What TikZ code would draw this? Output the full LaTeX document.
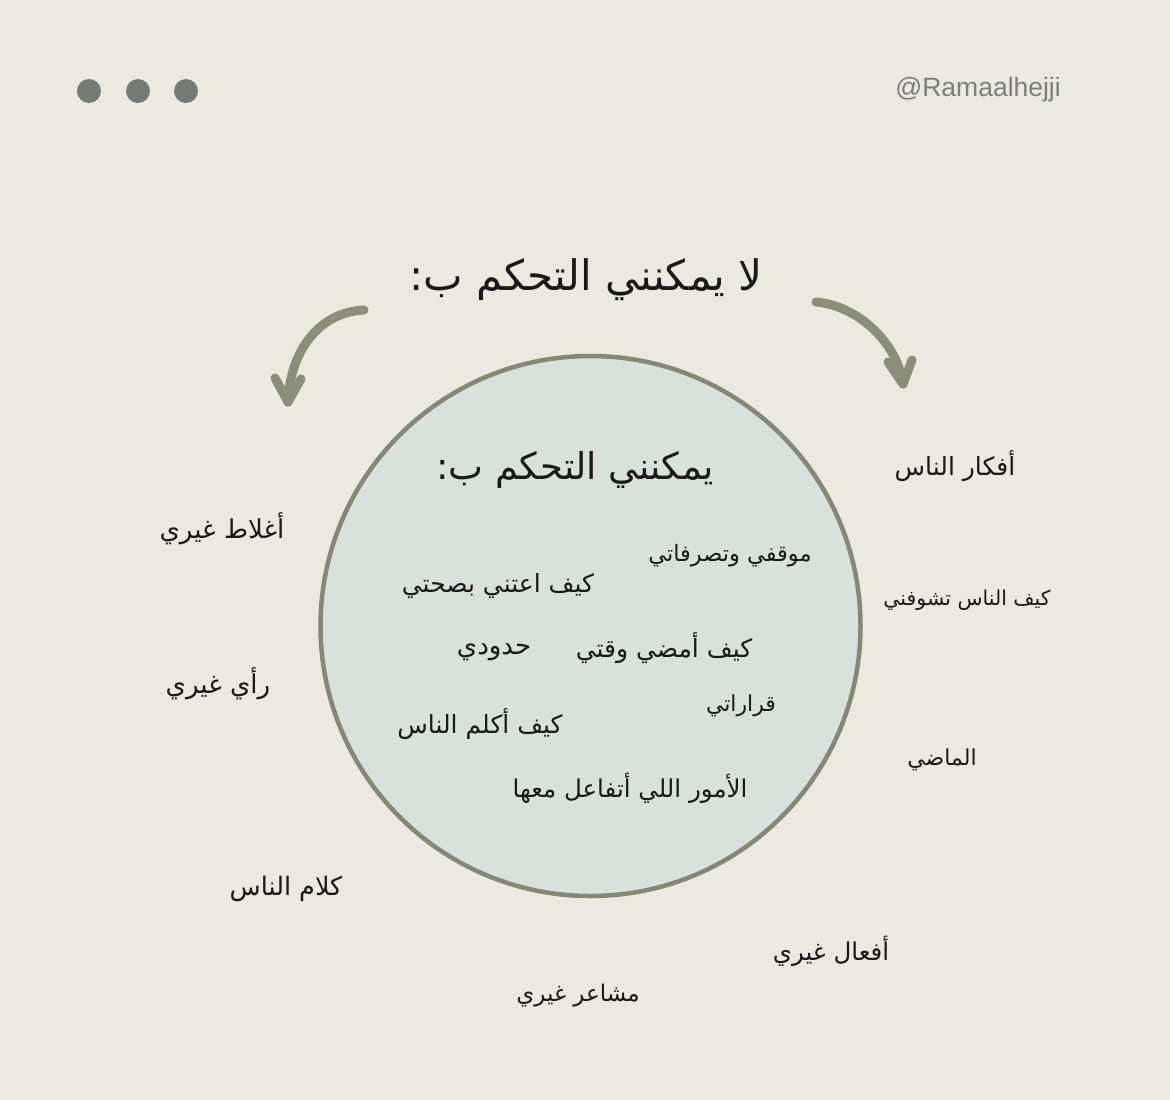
\documentclass[tikz,border=0pt]{standalone}
\usepackage{fontspec}
\TeXXeTstate=1
\newfontfamily\arabicfont[Script=Arabic]{DejaVu Sans}
\newfontfamily\handlefont{Liberation Sans}
\definecolor{bg}{HTML}{ECE9DE}
\definecolor{disc}{HTML}{D8E2DD}
\definecolor{rim}{HTML}{858873}
\definecolor{arrowc}{HTML}{8B8E78}
\definecolor{dotc}{HTML}{747C75}
\definecolor{handlec}{HTML}{7B7F7B}
\usetikzlibrary{arrows.meta}
\tikzset{
  ar/.style={font=\arabicfont\fontsize{#1}{#1}\selectfont, text=black!90, inner sep=0pt},
  ar/.default=24,
  curvearrow/.style={draw=arrowc, line width=9pt, line cap=round, line join=round},
  dotnode/.style={circle, fill=dotc, minimum size=24pt, inner sep=0pt},
}
\newcommand{\RL}[1]{\beginR #1\endR}
\begin{document}
\begin{tikzpicture}[x=1pt,y=-1pt]
\path[use as bounding box, fill=bg] (0,0) rectangle (1170,1100);
% window dots
\node[dotnode] (d1) at (89,91) {};
\node[dotnode] (d2) at (138,91) {};
\node[dotnode] (d3) at (186,91) {};
\node[font=\handlefont\fontsize{26.5}{26.5}\selectfont, text=handlec, anchor=east, inner sep=0pt] (handle) at (1061,90) {@Ramaalhejji};
% circle
\node[circle, fill=disc, draw=rim, line width=4.5pt, minimum size=540pt, inner sep=0pt] (c) at (590.5,626) {};
% title
\node[ar=42] (title) at (586,280) {\RL{لا يمكنني التحكم ب:}};
% arrows
\coordinate (la0) at (364,310);
\coordinate (la1) at (288,402);
\coordinate (ra0) at (816,302);
\coordinate (ra1) at (903,384);
\draw[curvearrow] (la0) .. controls (320,312) and (290,350) .. (la1);
\draw[curvearrow] (275,378) -- (la1) -- (301,379);
\draw[curvearrow] (ra0) .. controls (860,306) and (898,345) .. (ra1);
\draw[curvearrow] (888,362) -- (ra1) -- (912,360);
% inside
\node[ar=37] (can) at (575,470) {\RL{يمكنني التحكم ب:}};
\node[ar=22.5] (i1) at (730,556) {\RL{موقفي وتصرفاتي}};
\node[ar=25] (i2) at (498,586) {\RL{كيف اعتني بصحتي}};
\node[ar=25] (i3) at (664,648) {\RL{كيف أمضي وقتي}};
\node[ar=26] (i4) at (494,652) {\RL{حدودي}};
\node[ar=22] (i5) at (741,706) {\RL{قراراتي}};
\node[ar=25] (i6) at (480,724) {\RL{كيف أكلم الناس}};
\node[ar=24.5] (i7) at (630,788) {\RL{الأمور اللي أتفاعل معها}};
% outside
\node[ar=25] (o1) at (955,466) {\RL{أفكار الناس}};
\node[ar=26] (o2) at (222,529) {\RL{أغلاط غيري}};
\node[ar=20.5] (o3) at (967,600) {\RL{كيف الناس تشوفني}};
\node[ar=26] (o4) at (218,684) {\RL{رأي غيري}};
\node[ar=22] (o5) at (942,760) {\RL{الماضي}};
\node[ar=25.5] (o6) at (286,889) {\RL{كلام الناس}};
\node[ar=24.5] (o7) at (831,951) {\RL{أفعال غيري}};
\node[ar=23] (o8) at (578,996) {\RL{مشاعر غيري}};
\end{tikzpicture}
\end{document}
